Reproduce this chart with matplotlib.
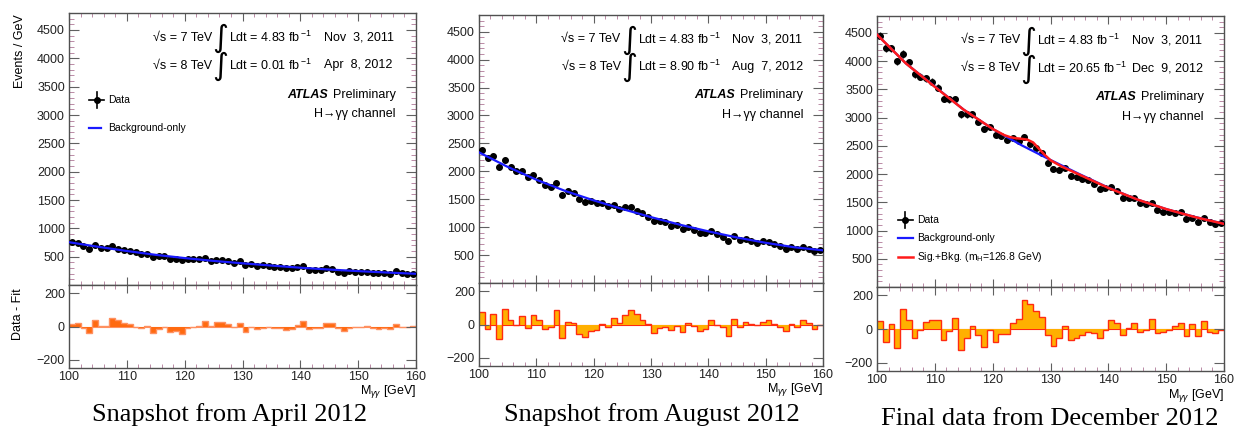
import numpy as np
import matplotlib
matplotlib.use('Agg')
import matplotlib.pyplot as plt
from matplotlib.ticker import MultipleLocator

plt.rcParams['font.family'] = ['Liberation Sans', 'DejaVu Sans']
plt.rcParams['mathtext.fontset'] = 'custom'
plt.rcParams['mathtext.rm'] = 'Liberation Sans'
plt.rcParams['mathtext.it'] = 'Liberation Sans:italic'
plt.rcParams['mathtext.bf'] = 'Liberation Sans:bold'

# 1 GeV bins from 100 to 160 GeV
bin_edges = np.arange(100, 161, 1)
bin_centres = bin_edges[:-1] + 0.5

# fit curves are given at these masses
fit_mass = [100, 105, 110, 115, 120, 125, 130, 135, 140, 145, 150, 155, 160]

# --- April 2012 snapshot ---
data_apr = [762, 750, 691, 639, 709, 656, 650, 680, 644, 621, 598, 580, 551, 551, 498,
            510, 510, 463, 463, 434, 463, 457, 451, 469, 422, 445, 445, 422, 392, 416,
            346, 369, 340, 351, 334, 322, 316, 299, 293, 322, 328, 269, 269, 258, 299,
            287, 234, 217, 252, 234, 228, 228, 211, 205, 211, 193, 240, 205, 193, 193]
resid_apr = [14, 20, -5, -35, 40, 5, 2, 50, 38, 20, 15, 0, -10, 3, -35,
             -15, 0, -30, -25, -45, -5, 0, 2, 35, 5, 28, 30, 15, 0, 25,
             -30, 0, -15, -5, -3, -5, -5, -20, -15, 12, 35, -15, -5, -10, 20,
             20, -10, -25, -5, -3, 0, 5, -10, -12, -10, -15, 15, 0, 0, 5]
bkg_apr = [755, 675, 600, 532, 475, 425, 383, 343, 305, 273, 245, 220, 198]

# --- August 2012 snapshot ---
data_aug = [2390, 2240, 2270, 2073, 2204, 2085, 2000, 2013, 1893, 1935, 1845, 1762, 1726, 1798, 1582,
            1654, 1613, 1505, 1445, 1463, 1427, 1427, 1373, 1403, 1332, 1367, 1367, 1296, 1248, 1176,
            1104, 1117, 1087, 1027, 1045, 968, 997, 955, 902, 902, 926, 878, 830, 758, 848,
            770, 791, 758, 723, 746, 729, 699, 663, 615, 639, 609, 639, 603, 573, 585]
resid_aug = [76, -24, 62, -84, 92, 26, -4, 52, -20, 60, 26, -24, -14, 86, -80,
             16, 12, -54, -74, -38, -34, 6, -14, 42, 12, 60, 86, 66, 30, 6,
             -50, -18, -14, -34, -8, -44, 10, -10, -38, -24, 26, 0, -14, -70, 36,
             -14, 16, 6, -4, 16, 26, 6, -14, -38, 6, -14, 30, 10, -24, 0]
bkg_aug = [2340, 2080, 1850, 1650, 1480, 1325, 1180, 1045, 925, 815, 720, 640, 585]

# --- December 2012 final data ---
data_dec = [4452, 4227, 4227, 4001, 4126, 3978, 3764, 3728, 3693, 3633, 3533, 3337, 3325, 3325, 3057,
            3057, 3057, 2920, 2790, 2838, 2701, 2671, 2612, 2642, 2582, 2653, 2541, 2464, 2375, 2197,
            2090, 2078, 2108, 1971, 1948, 1912, 1887, 1823, 1740, 1752, 1770, 1692, 1574, 1574, 1585,
            1496, 1472, 1496, 1366, 1335, 1325, 1307, 1325, 1200, 1229, 1157, 1218, 1157, 1116, 1129]
resid_dec = [48, -76, 28, -112, 118, 52, -50, -5, 44, 56, 52, -66, -8, 66, -126,
             -50, 16, -36, -106, -4, -78, -28, -28, 34, 58, 174, 150, 108, 70, -32,
             -98, -54, 18, -66, -50, -36, -16, -22, -50, -6, 56, 38, -36, 4, 36,
             -16, -6, 62, -22, -16, -2, 16, 38, -42, 28, -42, 46, -16, -22, -6]
bkg_dec = [4470, 3960, 3550, 3140, 2800, 2510, 2250, 2000, 1760, 1550, 1380, 1240, 1120]
sb_mass = [100, 105, 110, 115, 120, 122, 123, 124, 125, 126, 127, 128, 129, 130, 132,
           135, 140, 145, 150, 155, 160]
sigbkg_dec = [4470, 3960, 3545, 3140, 2800, 2690, 2655, 2635, 2625, 2610, 2560, 2450, 2340, 2245, 2130,
              1990, 1755, 1550, 1380, 1238, 1118]

W, H = 1243, 441
fig = plt.figure(figsize=(W / 100, H / 100), dpi=100)

def px_box(left, right, top, bottom):
    return [left / W, 1 - bottom / H, (right - left) / W, (bottom - top) / H]

def style(ax):
    for s in ax.spines.values():
        s.set_color('#505050')
        s.set_linewidth(1.0)
    ax.tick_params(which='both', direction='in', top=True, right=True,
                   colors='#606060', labelcolor='#222222', labelsize=9, pad=3)
    ax.tick_params(which='minor', colors='#b07898')

def legend_data(ax, x, y):
    ax.plot([x - 0.022, x + 0.022], [y, y], color='black', lw=1.2, transform=ax.transAxes)
    ax.plot([x, x], [y - 0.03, y + 0.03], color='black', lw=1.2, transform=ax.transAxes)
    ax.plot([x], [y], 'o', color='black', ms=4, transform=ax.transAxes)

# panel layout in pixels: left, right, top, split, bottom
panels = [
    dict(box=(69, 416, 13, 285, 368), data=data_apr, resid=resid_apr, bkg=bkg_apr,
         lumi='0.01', date='Apr  8, 2012', fill='#ff6a10', edge='#ff9060',
         caption='Snapshot from April 2012', cap_xy=(230, 415)),
    dict(box=(479, 823, 15, 283, 366), data=data_aug, resid=resid_aug, bkg=bkg_aug,
         lumi='8.90', date='Aug  7, 2012', fill='#ffb000', edge='#ff2a10',
         caption='Snapshot from August 2012', cap_xy=(652, 415)),
    dict(box=(877, 1224, 16, 287, 371), data=data_dec, resid=resid_dec, bkg=bkg_dec,
         lumi='20.65', date='Dec  9, 2012', fill='#ffb000', edge='#ff2a10',
         caption='Final data from December 2012', cap_xy=(1050, 419)),
]

for k, p in enumerate(panels):
    left, right, top, split, bottom = p['box']
    ax = fig.add_axes(px_box(left, right, top, split))
    axr = fig.add_axes(px_box(left, right, split, bottom))

    # main plot: data points and fits
    data = np.array(p['data'], dtype=float)
    ax.errorbar(bin_centres, data, xerr=0.5, yerr=np.sqrt(data), fmt='o', color='black',
                ms=4, elinewidth=1, capsize=0, zorder=3)
    ax.plot(fit_mass, p['bkg'], color='#1a1aff', lw=1.6, zorder=4)
    if k == 2:
        ax.plot(sb_mass, sigbkg_dec, color='#ff1a1a', lw=1.8, zorder=5)

    ax.set_xlim(100, 160)
    ax.set_ylim(0, 4800)
    ax.set_yticks(range(500, 4501, 500))
    ax.yaxis.set_minor_locator(MultipleLocator(100))
    ax.xaxis.set_major_locator(MultipleLocator(10))
    ax.xaxis.set_minor_locator(MultipleLocator(2))
    style(ax)
    ax.tick_params(axis='x', labelbottom=False)
    ax.tick_params(axis='y', which='major', length=7)
    ax.tick_params(axis='y', which='minor', length=3.5)
    ax.tick_params(axis='x', which='major', length=6)
    ax.tick_params(axis='x', which='minor', length=3)

    # header texts
    tf = ax.transAxes
    for row, (rts, lumi, date) in enumerate([('7', '4.83', 'Nov  3, 2011'),
                                             ('8', p['lumi'], p['date'])]):
        y = 0.91 - row * 0.103
        ax.text(0.412, y, '√s = %s TeV' % rts, transform=tf, ha='right', va='center', fontsize=9)
        ax.text(0.437, y - 0.004, '∫', transform=tf, ha='center', va='center', fontsize=22,
                family='DejaVu Sans')
        ax.text(0.461, y, r'Ldt = %s fb$^{\,\mathrm{-1}}$' % lumi, transform=tf,
                ha='left', va='center', fontsize=9)
        ax.text(0.736, y, date, transform=tf, ha='left', va='center', fontsize=9)
    ax.text(0.745, 0.70, 'ATLAS', transform=tf, ha='right', va='center', fontsize=9,
            fontweight='bold', style='italic')
    ax.text(0.942, 0.70, 'Preliminary', transform=tf, ha='right', va='center', fontsize=9)
    ax.text(0.942, 0.627, 'H→γγ channel', transform=tf, ha='right', va='center', fontsize=9)

    # legends
    if k == 0:
        legend_data(ax, 0.08, 0.68)
        ax.text(0.112, 0.68, 'Data', transform=tf, va='center', fontsize=7.5)
        ax.plot([0.058, 0.092], [0.577, 0.577], color='#1a1aff', lw=1.6, transform=tf)
        ax.text(0.112, 0.577, 'Background-only', transform=tf, va='center', fontsize=7.5)
    if k == 2:
        legend_data(ax, 0.082, 0.247)
        ax.text(0.115, 0.247, 'Data', transform=tf, va='center', fontsize=7.5)
        ax.plot([0.06, 0.104], [0.18, 0.18], color='#1a1aff', lw=1.6, transform=tf)
        ax.text(0.115, 0.18, 'Background-only', transform=tf, va='center', fontsize=7.5)
        ax.plot([0.06, 0.104], [0.112, 0.112], color='#ff1a1a', lw=1.8, transform=tf)
        ax.text(0.115, 0.112, r'Sig.+Bkg. (m$_{\mathrm{H}}$=126.8 GeV)', transform=tf,
                va='center', fontsize=7.5)

    # residual panel
    axr.stairs(p['resid'], bin_edges, baseline=0, fill=True, color=p['fill'], lw=0)
    axr.stairs(p['resid'], bin_edges, baseline=None, color=p['edge'], lw=1.0)
    axr.axhline(0, color=p['edge'], lw=0.8, zorder=0)
    axr.set_xlim(100, 160)
    axr.set_ylim(-248, 250)
    axr.set_yticks([-200, 0, 200])
    axr.xaxis.set_major_locator(MultipleLocator(10))
    axr.xaxis.set_minor_locator(MultipleLocator(2))
    style(axr)
    axr.tick_params(axis='x', pad=2)
    axr.tick_params(axis='y', which='major', length=7)
    axr.tick_params(axis='x', which='major', length=6)
    axr.tick_params(axis='x', which='minor', length=3)
    axr.text(1.0, -0.185, r'M$_{\gamma\gamma}$ [GeV]', transform=axr.transAxes,
             ha='right', va='top', fontsize=9)

    fig.text(p['cap_xy'][0] / W, 1 - p['cap_xy'][1] / H, p['caption'],
             family='Liberation Serif', fontsize=19, ha='center', va='center')

# axis titles of the first panel
fig.text(20 / W, 1 - 14 / H, 'Events / GeV', rotation=90, ha='center', va='top', fontsize=9)
fig.text(18 / W, 1 - 288 / H, 'Data - Fit', rotation=90, ha='center', va='top', fontsize=9)

fig.savefig('out.png', dpi=100)
